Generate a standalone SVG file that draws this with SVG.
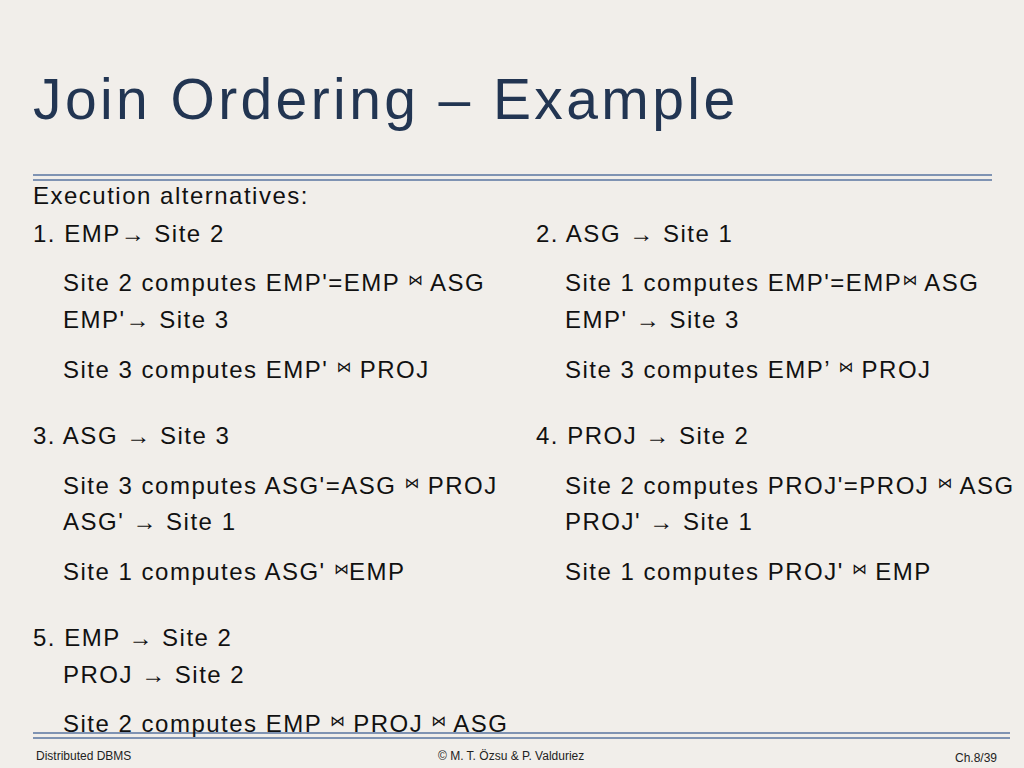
<svg xmlns="http://www.w3.org/2000/svg" width="1024" height="768" viewBox="0 0 1024 768">
<style>
.t{font-family:"Liberation Sans",Arial,sans-serif;font-size:24px;fill:#111;letter-spacing:1.5px}
.j{font-size:15px;font-family:"DejaVu Sans",sans-serif;letter-spacing:0}
.f{font-family:"Liberation Sans",Arial,sans-serif;font-size:12px;fill:#222}
.l{stroke:#7f93b3;stroke-width:2}
</style>
<rect width="1024" height="768" fill="#f1eeea"/>
<text x="33" y="119" font-family="Liberation Sans,Arial,sans-serif" font-size="57" letter-spacing="3.4" fill="#223552">Join Ordering – Example</text>
<line class="l" x1="33" y1="175" x2="992" y2="175"/><line class="l" x1="33" y1="180" x2="992" y2="180"/>
<line class="l" x1="33" y1="733" x2="1010" y2="733"/><line class="l" x1="33" y1="738" x2="1010" y2="738"/>
<g class="t">
<text x="33" y="204">Execution alternatives:</text>
<text x="33" y="242">1. EMP→ Site 2</text>
<text x="536" y="242">2. ASG → Site 1</text>
<text x="63" y="291">Site 2 computes EMP'=EMP <tspan class="j" dy="-6">⋈</tspan><tspan dy="6"> ASG</tspan></text>
<text x="63" y="328">EMP'→ Site 3</text>
<text x="63" y="378">Site 3 computes EMP' <tspan class="j" dy="-6">⋈</tspan><tspan dy="6"> PROJ</tspan></text>
<text x="565" y="291">Site 1 computes EMP'=EMP<tspan class="j" dy="-6">⋈</tspan><tspan dy="6"> ASG</tspan></text>
<text x="565" y="328">EMP' → Site 3</text>
<text x="565" y="378">Site 3 computes EMP’ <tspan class="j" dy="-6">⋈</tspan><tspan dy="6"> PROJ</tspan></text>
<text x="33" y="444">3. ASG → Site 3</text>
<text x="536" y="444">4. PROJ → Site 2</text>
<text x="63" y="494">Site 3 computes ASG'=ASG <tspan class="j" dy="-6">⋈</tspan><tspan dy="6"> PROJ</tspan></text>
<text x="63" y="530">ASG' → Site 1</text>
<text x="63" y="580">Site 1 computes ASG' <tspan class="j" dy="-6">⋈</tspan><tspan dy="6">EMP</tspan></text>
<text x="565" y="494">Site 2 computes PROJ'=PROJ <tspan class="j" dy="-6">⋈</tspan><tspan dy="6"> ASG</tspan></text>
<text x="565" y="530">PROJ' → Site 1</text>
<text x="565" y="580">Site 1 computes PROJ' <tspan class="j" dy="-6">⋈</tspan><tspan dy="6"> EMP</tspan></text>
<text x="33" y="646">5. EMP → Site 2</text>
<text x="63" y="683">PROJ → Site 2</text>
<text x="63" y="732">Site 2 computes EMP <tspan class="j" dy="-6">⋈</tspan><tspan dy="6"> PROJ </tspan><tspan class="j" dy="-6">⋈</tspan><tspan dy="6"> ASG</tspan></text>
</g>
<text class="f" x="36" y="760">Distributed DBMS</text>
<text class="f" x="438" y="760">© M. T. Özsu &amp; P. Valduriez</text>
<text class="f" x="955" y="762">Ch.8/39</text>
</svg>
